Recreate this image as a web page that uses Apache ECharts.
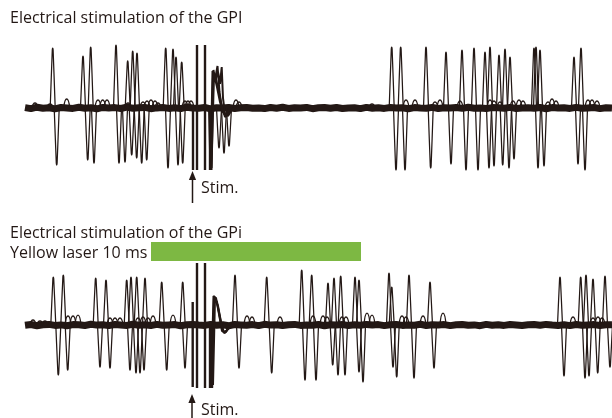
<!DOCTYPE html>
<html>
<head>
<meta charset="utf-8">
<script src="https://cdn.jsdelivr.net/npm/echarts@6/dist/echarts.min.js"></script>
<style>html,body{margin:0;padding:0;background:#fff}#c{width:612px;height:418px}</style>
</head>
<body>
<div id="c"></div>
<script>
// ---------- data (time in ms from sweep start, amplitude in a.u.) ----------
const sweepLength = 587;
const ampRange = 64;

const topTitle = 'Electrical stimulation of the GPI';
const bottomTitle = 'Electrical stimulation of the GPi';
const laserLabel = 'Yellow laser 10 ms';
const stimLabel = 'Stim.';

// Top panel: positive spike peaks [time, amplitude]
const topUp = [[27.7,60],[58,52],[65.7,61],[91,63],[102.7,47],[107.7,57],[112,55],[140.7,60],[148,59],[151,51],[156.7,46],
  [366.7,61],[375.7,61],[401,61],[421,56],[437,58],[449,60],[460,56],[465,61],[474,53],[480,59],[485,51],[509,60],[511,61],[515,58],[549,51],[556,60]];
// Top panel: negative troughs [time, depth]
const topDown = [[31.7,57],[62.7,52],[69,55],[94,55],[100,54],[106.7,47],[111.7,50],[116.7,55],[121.7,52],[143,60],[153,57],[157.7,55],
  [194,40],[199,45],[204,38],
  [371,62],[380,62],[405.7,60],[426,56],[441,62],[453,62],[464,60],[469,58],[477.7,57],[484,60],[489,51],[513,60],[519,58],[553,56],[560,62]];
// Top panel: small subthreshold bumps [time, amplitude]
const topBumps = [[10,5],[25,4],[41.7,9],[73,8],[77.7,8],[82,8],[103,5],[118,6],[122,7],[126,8],[130,7],[133,5],[160,7],[163,7],[166,7],
  [211,8],[214,6],[347,4],[381,8],[390,8],[410,6],[415,8],[435,7],[465,8],[469,7],[475,6],[488,7],[494,8],[498,7],[523,6],[527,9],[531,7],[563,8],[567,8],[572,7]];
// Top panel: stimulation artefacts [time, top, bottom]
const topStim = [[168,2,-62],[172,63,-62],[180,63,-62],[185,2,-62]];
// Top panel: post-stimulus transients (four sweeps)
const topTransA = [[184,0],[185.5,-62],[187.5,37],[189,34],[192,21],[195,6],[198,-4],[201,-8],[205,-3],[210,0]];
const topTransB = [[185,0],[186.5,-62],[188.5,38],[190,28],[192.5,42],[194.5,16],[197,-2],[200,-7],[206,0]];
const topTransC = [[186,-62],[188,32],[190,26],[193,36],[195,24],[196.7,41],[198,10],[200,-6],[203,-8],[208,0]];
const topTransD = [[186.5,-60],[189,35],[191.5,27],[194,15],[197,1],[200,-9],[204,-5],[209,0]];
// Top panel: baseline noise samples
const topNoise = [0.4,-0.6,0.8,-0.3,0.2,-0.9,0.5,0.1,-0.4,0.7,-0.2,0.3,-0.8,0.6,-0.1,0.4,-0.5,0.9,-0.3,0.2,0.6,-0.7,0.1,0.5,-0.4,0.3,-0.6,0.8,0,-0.2,
  0.5,-0.8,0.3,-0.1,0.6,-0.5,0.2,0.4,-0.3,0.1,-0.6,0.5,-0.2,0.7,-0.4,0.3,-0.1,0.6,-0.7,0.2,0.4,-0.3,0.5,-0.5,0.1,0.3,-0.6,0.6,-0.2,0.2,
  -0.4,0.5,-0.1,0.3,-0.7,0.4,0,-0.3,0.6,-0.5,0.2,-0.1,0.5,-0.4,0.7,-0.2,0.1,-0.6,0.4,0.2,-0.3,0.6,-0.5,0.1,0.3,-0.2,0.5,-0.7,0.4,-0.1,
  0.2,-0.4,0.6,-0.3,0.1,0.5,-0.6,0.2,-0.1];

// Bottom panel
const botUp = [[28.3,48],[38.3,50],[70.7,47],[81,45],[101.7,45],[106,48],[111.7,48],[120,47],[136.7,43],[157.7,43],
  [210,50],[241.7,48],[276.7,55],[286.7,50],[303,42],[309,47],[315.7,49],[330,48],[334,45],[364,52],[366.7,38],[384,50],[405,43],
  [535,48],[555.7,48],[561,50],[568,46],[580,49]];
const botDown = [[33.3,50],[42.7,45],[75,42],[85,43],[105,45],[111,48],[115,48],[119,45],[141.7,45],[160,43],
  [214,43],[246.7,48],[280,55],[291,55],[307.7,40],[313,50],[320,50],[334,47],[338,57],[368,42],[371.7,52],[389,53],[409,43],
  [539,51],[560,53],[564,51],[572.7,48],[585,42]];
const botBumps = [[8,5],[15,4],[20,4],[43,9],[48,9],[53,10],[85,7],[90,7],[95,7],[113,7],[118,8],[123,7],[128,9],[148,10],
  [222,9],[227,8],[255,8],[288,9],[298,9],[302,8],[317,8],[321,8],[342,12],[347,10],[377,9],[381,8],[398,9],[418,12],
  [548,8],[568,7],[573,8],[577,7]];
const botStim = [[167.7,23,-62],[172,62,-63],[180,62,-63],[185,0,-63],[187,0,-63]];
const botTransA = [[186,-63],[188.5,29],[191,27],[194,11],[197,-6],[200,-8],[204,-2],[209,0]];
const botTransB = [[187,-63],[189,28],[192,23],[195,7],[198,-6],[201,-7],[205,-1],[210,0]];
const botTransC = [[188,-60],[190,27],[193,19],[196,3],[199,-8],[203,-4],[209,0]];
const botNoise = [-0.3,0.5,-0.7,0.2,0.6,-0.4,0.1,-0.8,0.4,0.3,-0.5,0.7,-0.1,0.2,-0.6,0.5,0,-0.4,0.8,-0.2,0.3,-0.5,0.6,-0.3,0.1,0.4,-0.7,0.2,0.5,-0.1,
  -0.4,0.6,-0.2,0.3,-0.8,0.5,0.1,-0.3,0.4,-0.6,0.7,-0.1,0.2,-0.5,0.3,0.6,-0.4,0.1,-0.2,0.5,-0.7,0.3,0,0.4,-0.5,0.2,-0.3,0.6,-0.1,0.4,
  -0.6,0.2,0.5,-0.4,0.1,-0.2,0.7,-0.5,0.3,-0.1,0.4,-0.6,0.2,0.5,-0.3,0.1,-0.7,0.6,-0.2,0.3,-0.4,0.5,0,-0.5,0.2,0.4,-0.3,0.6,-0.1,-0.4,
  0.3,-0.6,0.5,-0.2,0.1,0.4,-0.5,0.2,0.3];
// Laser period [start, end] (bottom panel)
const laser = [[126, 336]];

// ---------- chart ----------
const ink = '#231815';
const chart = echarts.init(document.getElementById('c'), null, {renderer: 'canvas'});

function noiseSeries(noise, idx) {
  const step = sweepLength / (noise.length - 1);
  return {type:'line', xAxisIndex:idx, yAxisIndex:idx, showSymbol:false, silent:true,
    data: noise.map((v, i) => [i * step, v]),
    lineStyle:{color:ink, width:7}, z:1};
}
function spikeSeries(data, sign, idx) {
  return {type:'custom', xAxisIndex:idx, yAxisIndex:idx, silent:true, z:3,
    data: data,
    renderItem(params, api) {
      const t = api.value(0), a = sign * api.value(1), hw = 2.5;
      return {type:'polyline', shape:{points:[api.coord([t-hw,0]), api.coord([t-0.4,a*0.97]), api.coord([t,a]), api.coord([t+0.4,a*0.97]), api.coord([t+hw,0])], smooth:0.2},
        style:{stroke:ink, lineWidth:1.25, fill:null}};
    }};
}
function bumpSeries(data, idx) {
  return {type:'custom', xAxisIndex:idx, yAxisIndex:idx, silent:true, z:3,
    data: data,
    renderItem(params, api) {
      const t = api.value(0), a = api.value(1), hw = 3;
      const p0 = api.coord([t-hw,0]), p1 = api.coord([t+hw,0]);
      const c1 = api.coord([t-hw*0.6, a*1.33]), c2 = api.coord([t+hw*0.6, a*1.33]);
      return {type:'bezierCurve', shape:{x1:p0[0],y1:p0[1],x2:p1[0],y2:p1[1],cpx1:c1[0],cpy1:c1[1],cpx2:c2[0],cpy2:c2[1]},
        style:{stroke:ink, lineWidth:1.3, fill:null}};
    }};
}
function stimSeries(data, idx) {
  return {type:'custom', xAxisIndex:idx, yAxisIndex:idx, silent:true, z:4,
    data: data,
    renderItem(params, api) {
      const t = api.value(0);
      const p0 = api.coord([t, api.value(1)]), p1 = api.coord([t, api.value(2)]);
      return {type:'line', shape:{x1:p0[0],y1:p0[1],x2:p1[0],y2:p1[1]}, style:{stroke:ink, lineWidth:2.4}};
    }};
}
function transSeries(data, idx) {
  return {type:'line', xAxisIndex:idx, yAxisIndex:idx, showSymbol:false, silent:true, z:4,
    data: data, lineStyle:{color:ink, width:2}};
}
const laserSeries = {type:'custom', xAxisIndex:1, yAxisIndex:1, silent:true, clip:false, z:5,
  data: laser,
  renderItem(params, api) {
    const p0 = api.coord([api.value(0), ampRange]), p1 = api.coord([api.value(1), ampRange]);
    const h = 19;
    return {type:'rect', shape:{x:p0[0], y:p0[1]-h, width:p1[0]-p0[0], height:h}, style:{fill:'#7db843'}};
  }};

const font = '16px "Open Sans"';
function label(text, x, y) {
  return {type:'text', x:x, y:y, silent:true, style:{text:text, fill:ink, font:font, verticalAlign:'middle'}};
}
function arrow(x, yTip, yEnd) {
  return [
    {type:'line', silent:true, shape:{x1:x, y1:yTip+6, x2:x, y2:yEnd}, style:{stroke:ink, lineWidth:1.5}},
    {type:'polygon', silent:true, shape:{points:[[x, yTip],[x-3.6, yTip+9],[x+3.6, yTip+9]]}, style:{fill:ink}}
  ];
}

chart.setOption({
  animation:false,
  backgroundColor:'#ffffff',
  grid:[{left:25, width:587, top:44, height:128}, {left:25, width:587, top:261, height:128}],
  xAxis:[{gridIndex:0, type:'value', min:0, max:sweepLength, show:false},
         {gridIndex:1, type:'value', min:0, max:sweepLength, show:false}],
  yAxis:[{gridIndex:0, type:'value', min:-ampRange, max:ampRange, show:false},
         {gridIndex:1, type:'value', min:-ampRange, max:ampRange, show:false}],
  series:[
    noiseSeries(topNoise, 0),
    spikeSeries(topUp, 1, 0), spikeSeries(topDown, -1, 0), bumpSeries(topBumps, 0),
    stimSeries(topStim, 0), transSeries(topTransA, 0), transSeries(topTransB, 0), transSeries(topTransC, 0), transSeries(topTransD, 0),
    noiseSeries(botNoise, 1),
    spikeSeries(botUp, 1, 1), spikeSeries(botDown, -1, 1), bumpSeries(botBumps, 1),
    stimSeries(botStim, 1), transSeries(botTransA, 1), transSeries(botTransB, 1), transSeries(botTransC, 1),
    laserSeries
  ],
  graphic:[
    label(topTitle, 10, 18),
    label(bottomTitle, 10, 233),
    label(laserLabel, 10, 253),
    ...arrow(192.5, 171, 203),
    label(stimLabel, 201, 188),
    ...arrow(192, 394, 418),
    label(stimLabel, 201, 410)
  ]
});
</script>
</body>
</html>
